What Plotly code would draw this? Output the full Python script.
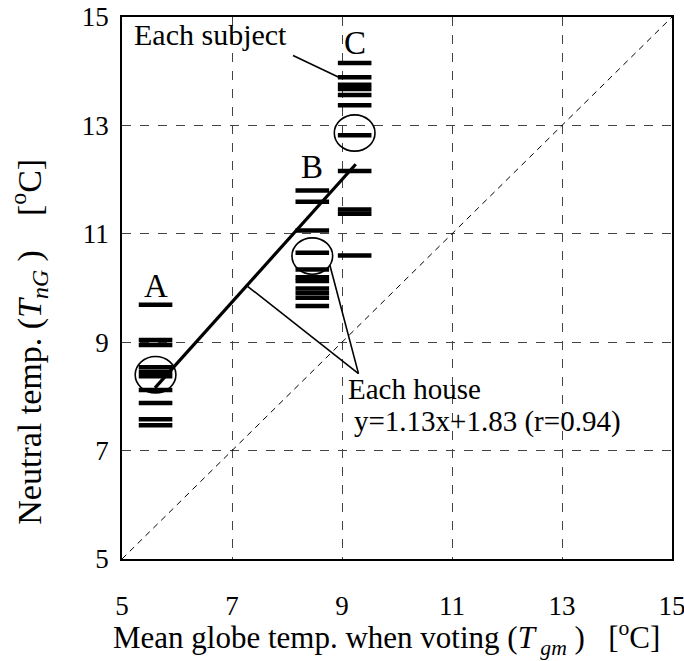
import plotly.graph_objects as go

# ---- data ----
house_names = ["A", "B", "C"]
house_x = [5.61, 8.46, 9.23]
house_mean_y = [8.40, 10.59, 12.86]
subjects_A = [9.69, 9.04, 8.95, 8.54, 8.45, 8.37, 8.12, 7.88, 7.58, 7.47]
subjects_B = [11.80, 11.59, 11.06, 10.65, 10.34, 10.20, 10.13, 9.99, 9.91, 9.82, 9.67]
subjects_C = [14.15, 13.89, 13.75, 13.67, 13.56, 13.37, 12.82, 12.16, 11.45, 11.37, 10.60]
reg_slope = 1.13
reg_intercept = 1.83
reg_x_range = [5.60, 9.25]
identity_range = [5, 15]
tick_vals = [5, 7, 9, 11, 13, 15]

FONT = "Liberation Serif, Times New Roman, serif"

fig = go.Figure()

# 1:1 line
fig.add_trace(go.Scatter(x=identity_range, y=identity_range, mode="lines",
                         line=dict(color="black", width=1, dash="6px,5px"),
                         hoverinfo="skip", showlegend=False))

# each subject dashes
for hx, ys in zip(house_x, [subjects_A, subjects_B, subjects_C]):
    fig.add_trace(go.Scatter(x=[hx] * len(ys), y=ys, mode="markers",
                             marker=dict(symbol="line-ew", size=24,
                                         line=dict(color="black", width=4.5)),
                             showlegend=False))

# regression line
reg_y = [reg_slope * v + reg_intercept for v in reg_x_range]
fig.add_trace(go.Scatter(x=reg_x_range, y=reg_y, mode="lines",
                         line=dict(color="black", width=3.2),
                         showlegend=False))

shapes = []
rx, ry = 0.37, 0.335
for hx, hy in zip(house_x, house_mean_y):
    shapes.append(dict(type="circle", xref="x", yref="y",
                       x0=hx - rx, x1=hx + rx, y0=hy - ry, y1=hy + ry,
                       line=dict(color="black", width=1.6)))

# leader lines
leaders = [
    ((8.11, 14.29), (8.98, 13.87)),      # Each subject
    ((7.26, 10.05), (9.30, 8.42)),       # to regression line
    ((8.78, 10.42), (9.30, 8.42)),       # to house B circle
]
for (xa, ya), (xb, yb) in leaders:
    shapes.append(dict(type="line", xref="x", yref="y", x0=xa, y0=ya, x1=xb, y1=yb,
                       line=dict(color="black", width=1.6)))

annotations = []
letter_pos_y = [10.03, 12.24, 14.52]
for name, hx, ly in zip(house_names, house_x, letter_pos_y):
    annotations.append(dict(x=hx, y=ly, xref="x", yref="y", text=name, showarrow=False,
                            font=dict(family=FONT, size=33, color="black"),
                            xanchor="center", yanchor="middle"))

annotations += [
    dict(x=5.19, y=14.68, xref="x", yref="y", text="Each subject", showarrow=False,
         font=dict(family=FONT, size=30, color="black"), xanchor="left", yanchor="middle"),
    dict(x=9.07, y=8.13, xref="x", yref="y", text="Each house", showarrow=False,
         font=dict(family=FONT, size=29, color="black"), xanchor="left", yanchor="middle"),
    dict(x=9.19, y=7.54, xref="x", yref="y", text="y=1.13x+1.83 (r=0.94)", showarrow=False,
         font=dict(family=FONT, size=29, color="black"), xanchor="left", yanchor="middle"),
    # axis titles
    dict(x=0.48, y=-0.146, xref="paper", yref="paper",
         text="Mean globe temp. when voting (<i>T</i><sub><i> gm</i></sub> )   [<sup>o</sup>C]",
         showarrow=False, font=dict(family=FONT, size=31, color="black"),
         xanchor="center", yanchor="middle"),
    dict(x=-0.17, y=0.40, xref="paper", yref="paper", textangle=-90,
         text="Neutral temp. (<i>T</i><sub><i>nG</i></sub> )    [<sup>o</sup>C]",
         showarrow=False, font=dict(family=FONT, size=34, color="black"),
         xanchor="center", yanchor="middle"),
]

axis_common = dict(range=[5, 15], tickvals=tick_vals, ticktext=[str(t) for t in tick_vals],
                   showgrid=True, gridcolor="#444444", gridwidth=1, griddash="dash",
                   showline=True, linecolor="black", linewidth=1.5, mirror=True,
                   ticks="", zeroline=False, automargin=False, ticklabeloverflow="allow",
                   tickfont=dict(family=FONT, size=27, color="black"))

fig.update_layout(
    width=684, height=661,
    margin=dict(l=122, r=12, t=17, b=102),
    paper_bgcolor="white", plot_bgcolor="white",
    shapes=shapes, annotations=annotations,
    xaxis=dict(**axis_common, ticklabelstandoff=22),
    yaxis=dict(**axis_common, ticklabelstandoff=6),
)

fig.write_html("out.html", config={"displayModeBar": False},
               post_script="document.body.style.margin='0px';document.body.style.overflow='hidden';")
